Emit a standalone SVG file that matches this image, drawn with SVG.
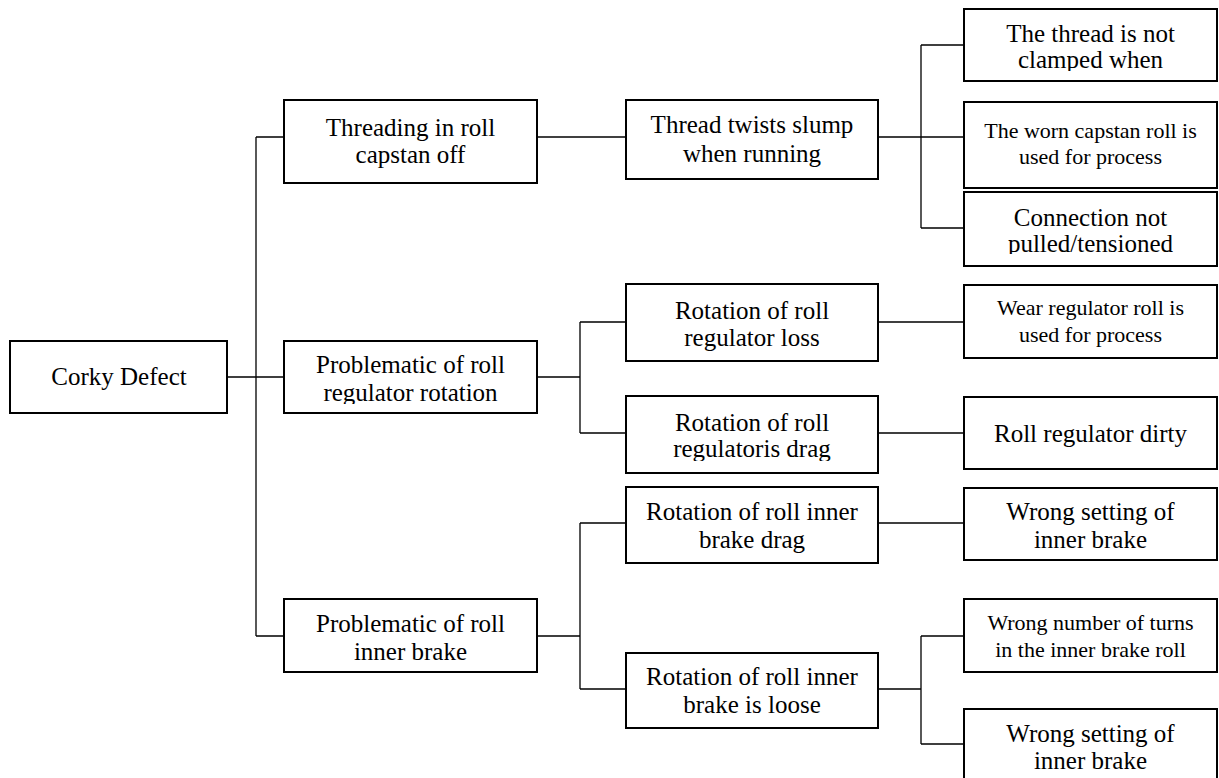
<svg xmlns="http://www.w3.org/2000/svg" width="1219" height="778" viewBox="0 0 1219 778">
<style>
.box{fill:#fff;stroke:#000;stroke-width:2}
.t{font-family:"Liberation Serif","Times New Roman",serif;font-size:25px;fill:#000;text-anchor:middle}
.s{font-family:"Liberation Serif","Times New Roman",serif;font-size:22px;fill:#000;text-anchor:middle}
.c{fill:none;stroke:#000;stroke-width:1.3}
</style>
<defs>
<clipPath id="clipA"><rect x="964" y="0" width="253" height="71"/></clipPath>
<clipPath id="clipC"><rect x="964" y="192" width="253" height="62"/></clipPath>
<clipPath id="clipPR"><rect x="284" y="341" width="253" height="63"/></clipPath>
<clipPath id="clipRD"><rect x="626" y="396" width="252" height="65"/></clipPath>
<clipPath id="clipRID"><rect x="626" y="487" width="252" height="66"/></clipPath>
</defs>
<rect width="1219" height="778" fill="#fff"/>
<g id="connectors">
<path class="c" d="M228,377 H256 M256,137 V636 M256,137 H284 M256,377 H284 M256,636 H284"/>
<path class="c" d="M537,137 H626"/>
<path class="c" d="M878,137 H921 M921,45 V228 M921,45 H964 M921,137 H964 M921,228 H964"/>
<path class="c" d="M537,377 H580 M580,322 V433 M580,322 H626 M580,433 H626"/>
<path class="c" d="M878,322 H964 M878,433 H964"/>
<path class="c" d="M537,636 H580 M580,523 V689 M580,523 H626 M580,689 H626"/>
<path class="c" d="M878,523 H964"/>
<path class="c" d="M878,689 H921 M921,636 V744 M921,636 H964 M921,744 H964"/>
</g>
<g id="corky-defect">
<rect class="box" x="10" y="341" width="217" height="72"/>
<text class="t" x="119" y="385">Corky Defect</text>
</g>
<g id="threading">
<rect class="box" x="284" y="100" width="253" height="83"/>
<text class="t" x="410.5" y="136">Threading in roll</text>
<text class="t" x="410.5" y="163">capstan off</text>
</g>
<g id="problematic-regulator">
<rect class="box" x="284" y="341" width="253" height="72"/>
<g clip-path="url(#clipPR)">
<text class="t" x="410.5" y="373">Problematic of roll</text>
<text class="t" x="410.5" y="401">regulator rotation</text>
</g>
</g>
<g id="problematic-inner-brake">
<rect class="box" x="284" y="599" width="253" height="73"/>
<text class="t" x="410.5" y="632">Problematic of roll</text>
<text class="t" x="410.5" y="660">inner brake</text>
</g>
<g id="thread-twists">
<rect class="box" x="626" y="100" width="252" height="79"/>
<text class="t" x="752" y="133">Thread twists slump</text>
<text class="t" x="752" y="162">when running</text>
</g>
<g id="rotation-regulator-loss">
<rect class="box" x="626" y="284" width="252" height="77"/>
<text class="t" x="752" y="319">Rotation of roll</text>
<text class="t" x="752" y="346">regulator loss</text>
</g>
<g id="rotation-regulator-drag">
<rect class="box" x="626" y="396" width="252" height="77"/>
<g clip-path="url(#clipRD)">
<text class="t" x="752" y="431">Rotation of roll</text>
<text class="t" x="752" y="457">regulatoris drag</text>
</g>
</g>
<g id="rotation-inner-drag">
<rect class="box" x="626" y="487" width="252" height="76"/>
<g clip-path="url(#clipRID)">
<text class="t" x="752" y="520">Rotation of roll inner</text>
<text class="t" x="752" y="548">brake drag</text>
</g>
</g>
<g id="rotation-inner-loose">
<rect class="box" x="626" y="653" width="252" height="75"/>
<text class="t" x="752" y="685">Rotation of roll inner</text>
<text class="t" x="752" y="713">brake is loose</text>
</g>
<g id="thread-not-clamped">
<rect class="box" x="964" y="9" width="253" height="72"/>
<g clip-path="url(#clipA)">
<text class="t" x="1090.5" y="42">The thread is not</text>
<text class="t" x="1090.5" y="68">clamped when</text>
</g>
</g>
<g id="worn-capstan">
<rect class="box" x="964" y="102" width="253" height="86"/>
<text class="s" x="1090.5" y="138">The worn capstan roll is</text>
<text class="s" x="1090.5" y="164">used for process</text>
</g>
<g id="connection-not-pulled">
<rect class="box" x="964" y="192" width="253" height="74"/>
<g clip-path="url(#clipC)">
<text class="t" x="1090.5" y="226">Connection not</text>
<text class="t" x="1090.5" y="252">pulled/tensioned</text>
</g>
</g>
<g id="wear-regulator">
<rect class="box" x="964" y="285" width="253" height="73"/>
<text class="s" x="1090.5" y="315">Wear regulator roll is</text>
<text class="s" x="1090.5" y="342">used for process</text>
</g>
<g id="roll-regulator-dirty">
<rect class="box" x="964" y="397" width="253" height="72"/>
<text class="t" x="1090.5" y="442">Roll regulator dirty</text>
</g>
<g id="wrong-setting-1">
<rect class="box" x="964" y="488" width="253" height="72"/>
<text class="t" x="1090.5" y="520">Wrong setting of</text>
<text class="t" x="1090.5" y="548">inner brake</text>
</g>
<g id="wrong-number-turns">
<rect class="box" x="964" y="599" width="253" height="73"/>
<text class="s" x="1090.5" y="630">Wrong number of turns</text>
<text class="s" x="1090.5" y="657">in the inner brake roll</text>
</g>
<g id="wrong-setting-2">
<rect class="box" x="964" y="709" width="253" height="100"/>
<text class="t" x="1090.5" y="742">Wrong setting of</text>
<text class="t" x="1090.5" y="769">inner brake</text>
</g>
</svg>
